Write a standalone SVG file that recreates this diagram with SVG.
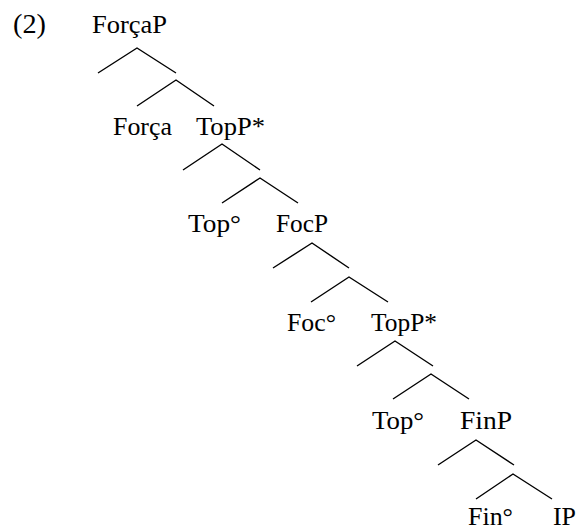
<svg xmlns="http://www.w3.org/2000/svg" width="579" height="529" viewBox="0 0 579 529">
<style>
text{font-family:"Liberation Serif","Times New Roman",serif;font-size:25px;fill:#000}
.e{fill:none;stroke:#000;stroke-width:1.4;stroke-linejoin:miter}
</style>
<rect width="579" height="529" fill="#fff"/>
<g id="label-ex"><text x="13" y="33" style="font-size:27px" textLength="33" lengthAdjust="spacingAndGlyphs">(2)</text></g>
<g id="n-ForcaP"><text x="92" y="33" textLength="75" lengthAdjust="spacingAndGlyphs">ForçaP</text></g>
<g id="n-Forca"><text x="113" y="135" textLength="59" lengthAdjust="spacingAndGlyphs">Força</text></g>
<g id="n-TopP1"><text x="196" y="135" textLength="69" lengthAdjust="spacingAndGlyphs">TopP*</text></g>
<g id="n-Top1"><text x="188" y="232" textLength="53" lengthAdjust="spacingAndGlyphs">Top°</text></g>
<g id="n-FocP"><text x="276" y="232" textLength="52" lengthAdjust="spacingAndGlyphs">FocP</text></g>
<g id="n-Foc"><text x="287" y="331" textLength="49" lengthAdjust="spacingAndGlyphs">Foc°</text></g>
<g id="n-TopP2"><text x="371" y="331" textLength="66" lengthAdjust="spacingAndGlyphs">TopP*</text></g>
<g id="n-Top2"><text x="372" y="429" textLength="52" lengthAdjust="spacingAndGlyphs">Top°</text></g>
<g id="n-FinP"><text x="460" y="429" textLength="52" lengthAdjust="spacingAndGlyphs">FinP</text></g>
<g id="n-Fin"><text x="468" y="525" textLength="45" lengthAdjust="spacingAndGlyphs">Fin°</text></g>
<g id="n-IP"><text x="553" y="525" textLength="23" lengthAdjust="spacingAndGlyphs">IP</text></g>
<g id="connectors">
<path class="e" d="M98,73 L137,48 L176,73"/>
<path class="e" d="M137,106 L176,80 L214,106"/>
<path class="e" d="M183,170 L222,144 L260,170"/>
<path class="e" d="M222,203 L260,178 L298,203"/>
<path class="e" d="M273,268 L312,243 L349,268"/>
<path class="e" d="M311,302 L349,277 L388,302"/>
<path class="e" d="M357,366 L395,341 L433,366"/>
<path class="e" d="M393,399 L431,374 L469,399"/>
<path class="e" d="M438,465 L476,440 L514,465"/>
<path class="e" d="M476,499 L513,474 L552,499"/>
</g>
</svg>
